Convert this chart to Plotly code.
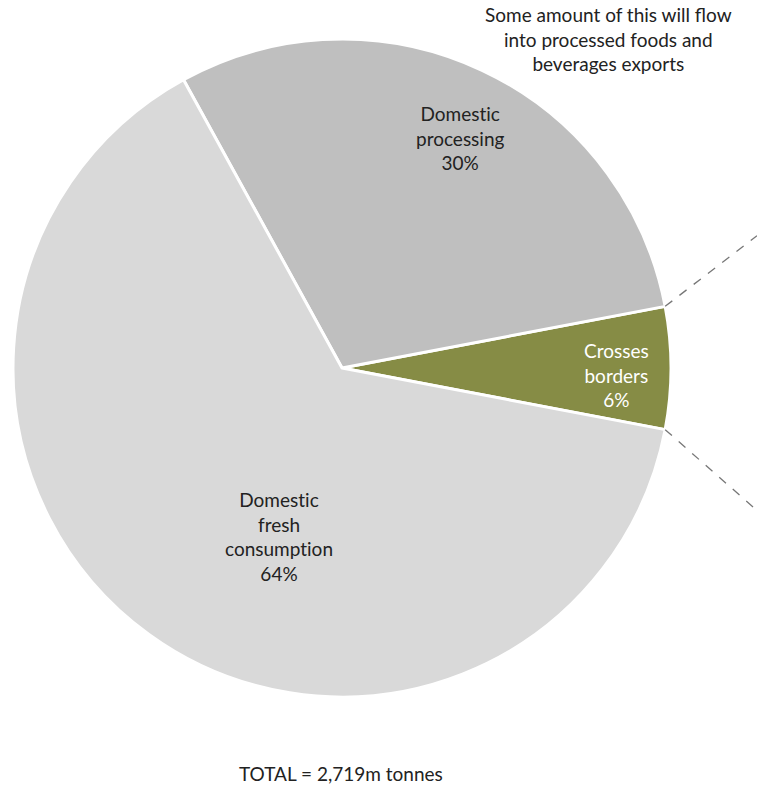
import math
import plotly.graph_objects as go

# Destination shares of total output (%)
categories = ["Crosses borders", "Domestic processing", "Domestic fresh consumption"]
shares = [6, 30, 64]
label_lines = [["Crosses", "borders"], ["Domestic", "processing"], ["Domestic", "fresh", "consumption"]]
slice_colors = ["#868c45", "#bfbfbf", "#d9d9d9"]
text_colors = ["#ffffff", "#222222", "#222222"]
label_pos = [(0.815, 0.522), (0.608, 0.824), (0.369, 0.316)]

total_note = "TOTAL = 2,719m tonnes"
flow_note = "Some amount of this will flow<br>into processed foods and<br>beverages exports"

W, H = 757, 785
FONT = "Lato, 'Open Sans', sans-serif"

# pie placement (paper fractions)
dom_x = [13 / W, 671 / W]
dom_y = [88 / H, 746 / H]

# first slice is centred on 3 o'clock, slices run counterclockwise
half_first = shares[0] / sum(shares) * 360 / 2
rotation = 90 - half_first

fig = go.Figure(go.Pie(
    labels=categories,
    values=shares,
    sort=False,
    direction="counterclockwise",
    rotation=rotation,
    marker=dict(colors=slice_colors, line=dict(color="white", width=3)),
    textinfo="none",
    hoverinfo="label+percent",
    domain=dict(x=dom_x, y=dom_y),
    showlegend=False,
))


def no_lig(s):
    # keep "t" and "i" as separate glyphs (Lato would otherwise join them)
    return s.replace("ti", "t\u200ci")


def note(text, x, y, color="#222222"):
    return dict(
        text=no_lig(text), x=x, y=y, xref="paper", yref="paper",
        xanchor="center", yanchor="middle",
        showarrow=False, align="center", font=dict(family=FONT, size=19, color=color),
    )


annotations = []
for lines, v, col, (ax, ay) in zip(label_lines, shares, text_colors, label_pos):
    annotations.append(note("<br>".join(lines + [f"{v}%"]), ax, ay, col))
annotations.append(note(flow_note, 608 / W, 1 - 39 / H))
annotations.append(note(total_note, 341 / W, 1 - 773 / H))

# dashed leader lines from the edges of the first slice to the right border
cx = (dom_x[0] + dom_x[1]) / 2 * W
cy = (1 - (dom_y[0] + dom_y[1]) / 2) * H
r = (dom_x[1] - dom_x[0]) * W / 2
shapes = []
for sign, slope in [(1, 0.77), (-1, 0.88)]:
    ang = math.radians(sign * half_first)
    x0 = cx + r * math.cos(ang)
    y0 = cy - r * math.sin(ang)
    x1 = W
    y1 = y0 - sign * slope * (x1 - x0)
    shapes.append(dict(
        type="line", xref="paper", yref="paper",
        x0=x0 / W, y0=1 - y0 / H, x1=x1 / W, y1=1 - y1 / H,
        line=dict(color="#777777", width=1.3, dash="dash"),
    ))

fig.update_layout(
    width=W, height=H,
    margin=dict(l=0, r=0, t=0, b=0),
    paper_bgcolor="white", plot_bgcolor="white",
    annotations=annotations, shapes=shapes,
)

fig.write_html("out.html")
